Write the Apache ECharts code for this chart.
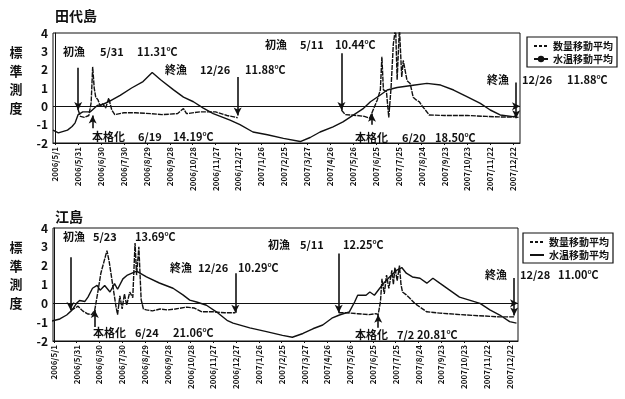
<!DOCTYPE html>
<html>
<head>
<meta charset="utf-8">
<script src="https://cdn.jsdelivr.net/npm/echarts@6/dist/echarts.min.js"></script>
<style>
  body { margin: 0; background: #fff; }
  #c1 { position: absolute; left: 0; top: 0; width: 625px; height: 196px; }
  #c2 { position: absolute; left: 0; top: 196px; width: 625px; height: 203px; }
</style>
</head>
<body>
<div id="c1"></div>
<div id="c2"></div>
<script>
// x = days since 2006/5/1, ticks every 30 days
const xTickDays = [0, 30, 60, 90, 120, 150, 180, 210, 240, 270, 300, 330, 360, 390, 420, 450, 480, 510, 540, 570, 600];
const xTickLabels = ["2006/5/1", "2006/5/31", "2006/6/30", "2006/7/30", "2006/8/29", "2006/9/28", "2006/10/28",
  "2006/11/27", "2006/12/27", "2007/1/26", "2007/2/25", "2007/3/27", "2007/4/26", "2007/5/26", "2007/6/25",
  "2007/7/25", "2007/8/24", "2007/9/23", "2007/10/23", "2007/11/22", "2007/12/22"];
const yTicks = [-2, -1, 0, 1, 2, 3, 4];
const seriesNames = ["数量移動平均", "水温移動平均"];

// 田代島
const tashiroTemp = [[-3, -1.3], [4, -1.45], [16, -1.3], [22, -1.1], [26, -0.9], [30, -0.45], [36, -0.3], [46, -0.3],
  [55, 0.05], [62, 0.1], [72, 0.3], [85, 0.6], [100, 1.0], [115, 1.35], [127, 1.85], [138, 1.45], [155, 0.9],
  [168, 0.5], [181, 0.25], [194, -0.1], [207, -0.4], [229, -0.75], [242, -1.0], [259, -1.4], [278, -1.55],
  [299, -1.75], [321, -1.92], [334, -1.7], [347, -1.4], [364, -1.12], [377, -0.85], [391, -0.47], [404, -0.11],
  [413, 0.25], [426, 0.62], [435, 0.89], [448, 1.03], [469, 1.15], [487, 1.25], [505, 1.16], [522, 0.89],
  [540, 0.52], [557, 0.16], [570, -0.2], [583, -0.47], [600, -0.56], [607, -0.6]];
const tashiroCatch = [[30, -0.2], [33, -0.55], [38, -0.6], [44, -0.5], [47, 0.2], [49, 2.15], [51, 1.0], [53, 0.5],
  [56, 0.35], [59, 0.0], [62, 0.15], [66, -0.1], [70, 0.45], [74, -0.2], [78, -0.45], [90, -0.35], [105, -0.35],
  [125, -0.4], [140, -0.45], [160, -0.4], [168, -0.12], [172, -0.4], [190, -0.3], [210, -0.3], [225, -0.5],
  [239, -0.62], [300, "-"],
  [375, -0.2], [380, -0.45], [395, -0.5], [405, -0.55], [412, -0.65], [418, -0.05], [422, 0.35], [426, 0.9],
  [428, 2.7], [430, 0.9], [434, 0.8], [437, -0.6], [440, 1.0], [443, 3.4], [446, 4.3], [448, 1.45], [451, 4.3],
  [454, 1.6], [456, 2.5], [461, 1.4], [465, 1.25], [469, 0.5], [473, 0.35], [477, 0.25], [481, 0.0], [485, -0.2],
  [490, -0.47], [510, -0.5], [540, -0.5], [565, -0.55], [585, -0.58], [600, -0.58], [604, -0.5]];
const tashiroArrows = [
  { date: "2006/5/31", from: 2.1, to: -0.2 }, { date: "2006/6/19", from: -1.2, to: -0.5 },
  { date: "2006/12/26", from: 1.6, to: -0.5 }, { date: "2007/5/11", from: 2.9, to: -0.2 },
  { date: "2007/6/20", from: -1.0, to: -0.4 }, { date: "2007/12/26", from: 1.3, to: -0.65 }];
const tashiroNotes = [["初漁", "5/31", "11.31℃"], ["終漁", "12/26", "11.88℃"], ["本格化", "6/19", "14.19℃"],
  ["初漁", "5/11", "10.44℃"], ["本格化", "6/20", "18.50℃"], ["終漁", "12/26", "11.88℃"]];

// 江島
const enoshimaTemp = [[-3, -0.95], [8, -0.83], [17, -0.62], [24, -0.36], [30, 0.0], [34, 0.15], [41, 0.1], [45, 0.33],
  [51, 0.8], [57, 0.95], [61, 0.7], [67, 0.95], [74, 0.6], [80, 1.05], [84, 0.75], [91, 1.3], [97, 1.5], [109, 1.71],
  [122, 1.4], [139, 1.08], [157, 0.8], [170, 0.45], [179, 0.17], [188, 0.07], [201, -0.1], [214, -0.45], [228, -0.9],
  [236, -1.05], [258, -1.3], [280, -1.5], [301, -1.7], [314, -1.8], [328, -1.6], [341, -1.35], [354, -1.15],
  [366, -0.79], [376, -0.62], [389, -0.45], [396, 0.07], [400, 0.43], [411, 0.43], [416, 0.6], [422, 0.43],
  [429, 0.8], [436, 1.15], [442, 1.4], [451, 1.75], [458, 1.9], [464, 1.6], [472, 1.4], [482, 1.33], [491, 1.07],
  [499, 1.33], [508, 1.07], [521, 0.7], [534, 0.33], [547, 0.17], [561, 0.0], [574, -0.35], [587, -0.62],
  [600, -0.97], [609, -1.05]];
const enoshimaCatch = [[22, -0.35], [26, -0.3], [32, -0.15], [38, -0.4], [44, -0.55], [50, -0.6], [54, -0.35],
  [58, 0.6], [62, 1.6], [66, 2.2], [70, 2.8], [73, 2.2], [76, 1.4], [79, 0.6], [82, -0.2], [84, -0.6], [87, 0.4],
  [90, -0.3], [93, 0.5], [96, -0.1], [100, 0.6], [104, 0.3], [107, 3.2], [109, 1.5], [112, 3.0], [115, 0.2],
  [118, -0.3], [122, -0.35], [130, -0.4], [140, -0.3], [150, -0.35], [160, -0.3], [175, -0.2], [185, -0.25],
  [195, -0.45], [210, -0.45], [225, -0.5], [239, -0.5], [300, "-"],
  [375, -0.5], [385, -0.5], [400, -0.55], [415, -0.6], [424, -0.55], [427, -0.6], [430, 0.1], [432, 1.3],
  [435, 0.5], [438, 1.5], [441, 0.8], [445, 1.75], [447, 1.0], [449, 1.9], [452, 1.2], [455, 2.0], [457, 1.0],
  [459, 0.6], [464, 0.45], [468, 0.3], [475, 0.0], [482, -0.2], [491, -0.45], [508, -0.52], [543, -0.62],
  [587, -0.72], [606, -0.72]];
const enoshimaArrows = [
  { date: "2006/5/23", from: 2.45, to: -0.35 }, { date: "2006/6/24", from: -1.25, to: -0.35 },
  { date: "2006/12/26", from: 1.6, to: -0.5 }, { date: "2007/5/11", from: 2.65, to: -0.5 },
  { date: "2007/7/2", from: -1.3, to: -0.6 }, { date: "2007/12/28", from: 1.35, to: -0.65 }];
const enoshimaNotes = [["初漁", "5/23", "13.69℃"], ["終漁", "12/26", "10.29℃"], ["本格化", "6/24", "21.06℃"],
  ["初漁", "5/11", "12.25℃"], ["本格化", "7/2", "20.81℃"], ["終漁", "12/28", "11.00℃"]];

const FONT = '"Noto Sans CJK JP", "DejaVu Sans", sans-serif';

const dayOf = (s) => {
  const [y, m, d] = s.split("/").map(Number);
  return Math.round((Date.UTC(y, m - 1, d) - Date.UTC(2006, 4, 1)) / 864e5);
};

const initChart = (opts) => {
  const { el, title, temp, catchData, arrows, notes, notePos, grid, xMin, xMax, legendBox, tempDot } = opts;

  const texts = [];
  // 注記
  notes.forEach((parts, i) => {
    parts.forEach((t, j) => {
      texts.push({
        type: "text",
        style: { text: t, x: notePos[i].x[j], y: notePos[i].y, textVerticalAlign: "middle",
          font: "bold 11px " + FONT, fill: "#111" },
      });
    });
  });
  texts.push({ type: "text", style: { text: title, x: 55, y: opts.titleY, textVerticalAlign: "middle",
    font: "bold 14px " + FONT, fill: "#111" } });
  texts.push({ type: "text", style: { text: "標\n準\n測\n度", x: 16, y: opts.yNameTop, textAlign: "center",
    font: "bold 13px " + FONT, lineHeight: 18.5, fill: "#111" } });

  const arrowLines = arrows.map((a) => [
    { coord: [dayOf(a.date), a.from], symbol: "none" },
    { coord: [dayOf(a.date), a.to], symbol: "arrow" },
  ]);

  const option = {
    animation: false,
    textStyle: { fontFamily: FONT },
    graphic: texts,
    grid: { ...grid, show: true, borderColor: "#111", borderWidth: 1 },
    legend: {
      orient: "vertical", left: legendBox.left, top: legendBox.top,
      itemWidth: 14, itemHeight: 8, itemGap: 3, padding: [4, 4, 3, 6],
      borderColor: "#111", borderWidth: 1.2,
      textStyle: { fontSize: 10, fontWeight: "bold", color: "#111" },
      data: [
        { name: seriesNames[0], lineStyle: { type: [3, 2] }, itemStyle: { opacity: 0 } },
        { name: seriesNames[1], itemStyle: { opacity: tempDot ? 1 : 0 } },
      ],
    },
    xAxis: {
      type: "value", min: xMin, max: xMax,
      axisLine: { onZero: false, lineStyle: { color: "#111" } },
      splitLine: { show: false },
      axisTick: { show: true, customValues: xTickDays, length: 2, lineStyle: { color: "#111" } },
      axisLabel: {
        customValues: xTickDays, rotate: 90, fontSize: 8, fontWeight: "bold", color: "#111", margin: 4,
        formatter: (v) => xTickLabels[xTickDays.indexOf(v)] || "",
      },
    },
    yAxis: {
      type: "value", min: yTicks[0], max: yTicks[yTicks.length - 1], interval: 1,
      axisLine: { show: true, lineStyle: { color: "#111" } },
      axisTick: { show: false },
      splitLine: { show: false },
      axisLabel: { fontSize: 12, fontWeight: "bold", color: "#111", margin: 5 },
    },
    series: [
      {
        name: seriesNames[0], type: "line", data: catchData, showSymbol: false, symbol: "none",
        lineStyle: { color: "#111", width: 1.4, type: [5, 1] },
        itemStyle: { color: "#111" },
        markLine: {
          silent: true, animation: false,
          label: { show: false },
          symbolSize: [6, 8],
          lineStyle: { color: "#111", width: 1.6, type: "solid" },
          data: [{ yAxis: 0, symbol: "none", lineStyle: { width: 1.2 } }, ...arrowLines],
        },
      },
      {
        name: seriesNames[1], type: "line", data: temp, showSymbol: false,
        symbol: tempDot ? "circle" : "none", symbolSize: 4,
        lineStyle: { color: "#111", width: 1.4 },
        itemStyle: { color: "#111" },
      },
    ],
  };

  const myChart = echarts.init(el);
  myChart.setOption(option);
};

initChart({
  el: document.getElementById("c1"),
  title: "田代島", titleY: 16, yNameTop: 43,
  temp: tashiroTemp, catchData: tashiroCatch, arrows: tashiroArrows, notes: tashiroNotes,
  notePos: [{ x: [63, 100, 137], y: 52 }, { x: [165, 200, 245], y: 70 }, { x: [92, 138, 173], y: 137 },
    { x: [265, 300, 335], y: 45 }, { x: [355, 402, 435], y: 138 }, { x: [487, 522, 567], y: 80 }],
  grid: { left: 53, top: 33, width: 467, height: 110 },
  xMin: -3, xMax: 609,
  legendBox: { left: 527, top: 37 },
  tempDot: true,
});

initChart({
  el: document.getElementById("c2"),
  title: "江島", titleY: 21, yNameTop: 42,
  temp: enoshimaTemp, catchData: enoshimaCatch, arrows: enoshimaArrows, notes: enoshimaNotes,
  notePos: [{ x: [63, 93, 135], y: 41 }, { x: [170, 198, 238], y: 72 }, { x: [93, 135, 173], y: 137 },
    { x: [268, 300, 343], y: 49 }, { x: [355, 397, 417], y: 139 }, { x: [485, 520, 558], y: 79 }],
  grid: { left: 53, top: 32, width: 465, height: 113 },
  xMin: -1, xMax: 611,
  legendBox: { left: 523, top: 37 },
  tempDot: false,
});
</script>
</body>
</html>
